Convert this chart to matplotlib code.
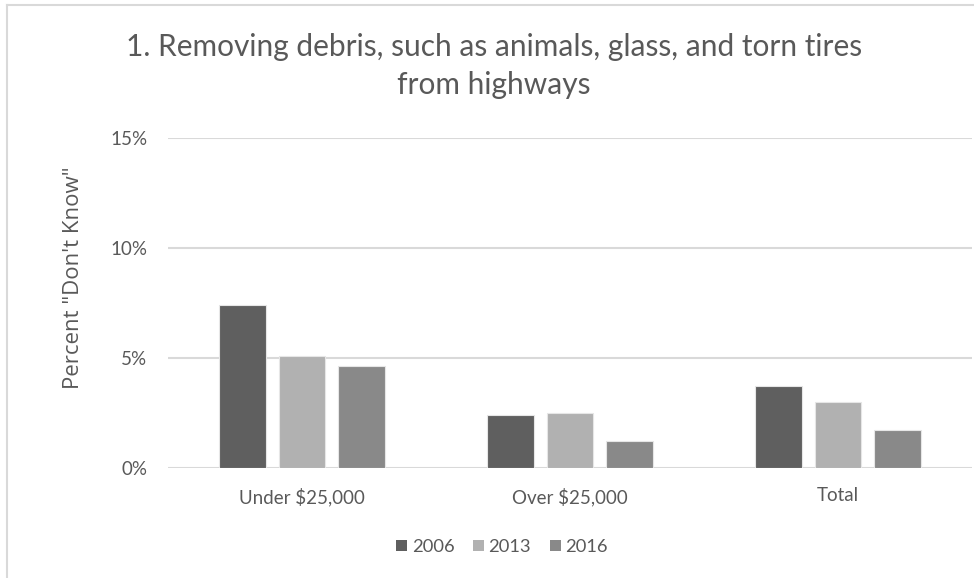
import numpy as np
import matplotlib
matplotlib.use("Agg")
import matplotlib.pyplot as plt
from matplotlib.lines import Line2D
from matplotlib.patches import Patch
from matplotlib.ticker import PercentFormatter

categories = ["Under $25,000", "Over $25,000", "Total"]
years = ["2006", "2013", "2016"]
pct_2006 = [7.42, 2.42, 3.71]
pct_2013 = [5.10, 2.48, 2.98]
pct_2016 = [4.62, 1.21, 1.71]
colors = ["#5f5f5f", "#b1b1b1", "#898989"]

text_gray = "#595959"
plt.rcParams["font.family"] = ["Lato", "DejaVu Sans"]

fig = plt.figure(figsize=(9.74, 5.78), dpi=100)
ax = fig.add_axes([168 / 974, 1 - 468 / 578, 804 / 974, 330 / 578])

x = np.arange(len(categories))
width = 0.175
step = 0.221
for i, (vals, c) in enumerate(zip([pct_2006, pct_2013, pct_2016], colors)):
    ax.bar(x + (i - 1) * step, vals, width, color=c, edgecolor="#e6e6e6",
           linewidth=0.8, zorder=3, label=years[i])

ax.set_xlim(-0.5, 2.5)
ax.set_ylim(0, 15)
ax.set_yticks([0, 5, 10, 15])
ax.yaxis.set_major_formatter(PercentFormatter(decimals=0))
ax.grid(axis="y", color="#d9d9d9", linewidth=1.5, zorder=0)
for s in ax.spines.values():
    s.set_visible(False)
ax.tick_params(length=0, colors=text_gray, labelsize=13.5)
ax.tick_params(axis="y", pad=15)
ax.tick_params(axis="x", pad=14)
ax.set_xticks(x)
ax.set_xticklabels(categories)

ax.set_ylabel('Percent "Don\'t Know"', color=text_gray, fontsize=16,
              fontfamily="Open Sans", labelpad=19)
ax.yaxis.label.set_position((0, (468 - 278) / 330))

fig.text(494 / 974, 1 - 66 / 578,
         "1. Removing debris, such as animals, glass, and torn tires\nfrom highways",
         ha="center", va="center", fontsize=21.5, color=text_gray, linespacing=1.42)

handles = [Patch(facecolor=c, edgecolor="none") for c in colors]
fig.legend(handles, years, loc="center", bbox_to_anchor=(502 / 974, 1 - 547 / 578),
           ncol=3, frameon=False, fontsize=13.2, labelcolor=text_gray,
           handlelength=0.6, handleheight=0.6, handletextpad=0.25, columnspacing=1.0)

# outer chart frame (top and left edges)
fig.add_artist(Line2D([7 / 974, 7 / 974], [0, 1 - 5 / 578], color="#d9d9d9", lw=1.5,
                      transform=fig.transFigure))
fig.add_artist(Line2D([7 / 974, 1], [1 - 5 / 578, 1 - 5 / 578], color="#d9d9d9", lw=1.5,
                      transform=fig.transFigure))

fig.savefig("out.png", dpi=100, facecolor="white")
